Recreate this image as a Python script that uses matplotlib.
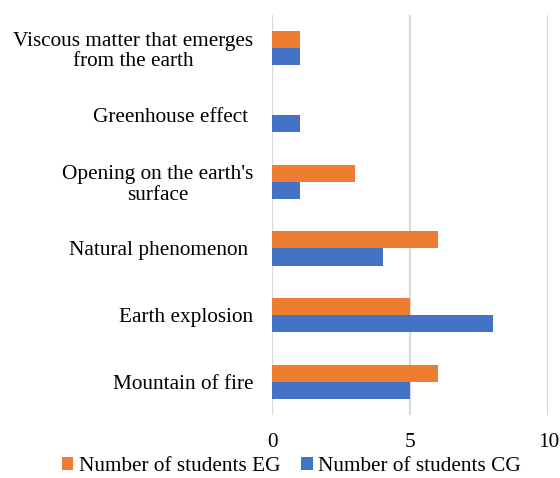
import matplotlib.pyplot as plt
import numpy as np

plt.rcParams['font.family'] = 'Liberation Serif'

# answers, top to bottom
categories = ["Viscous matter that emerges\nfrom the earth",
              "Greenhouse effect ",
              "Opening on the earth's\nsurface",
              "Natural phenomenon ",
              "Earth explosion",
              "Mountain of fire"]
students_eg = [1, 0, 3, 6, 5, 6]
students_cg = [1, 1, 1, 4, 8, 5]

fig = plt.figure(figsize=(5.6, 4.78), dpi=100)
ax = fig.add_axes([0.486, 0.131, 0.493, 0.838])

y = np.arange(len(categories))[::-1]
h = 0.255
ax.barh(y + h / 2, students_eg, height=h, color='#ED7D31', label='Number of students EG', zorder=3)
ax.barh(y - h / 2, students_cg, height=h, color='#4472C4', label='Number of students CG', zorder=3)

ax.set_xlim(0, 10)
ax.set_xticks([0, 5, 10])
ax.set_ylim(-0.5, len(categories) - 0.5)
ax.set_yticks(y)
ax.set_yticklabels(categories, multialignment='center', linespacing=1.12)
ax.tick_params(axis='y', length=0, pad=13.5, labelsize=15.3)
ax.tick_params(axis='x', length=0, pad=13, labelsize=15.3)
ax.grid(axis='x', color='#D9D9D9', linewidth=1.5, zorder=0)
for s in ax.spines.values():
    s.set_visible(False)

ax.legend(loc='center', bbox_to_anchor=(0.07, -0.128), ncol=2, frameon=False,
          fontsize=15.3, handlelength=0.55, handleheight=0.55, handletextpad=0.25,
          columnspacing=1.0, borderpad=0, borderaxespad=0)

fig.savefig('out.png')
